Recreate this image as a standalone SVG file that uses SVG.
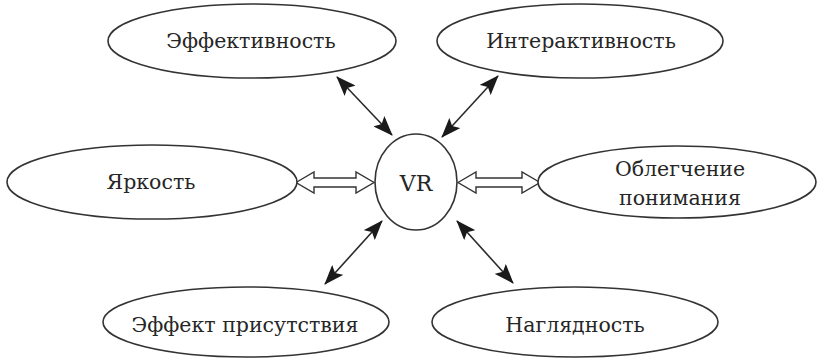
<svg xmlns="http://www.w3.org/2000/svg" width="819" height="358" viewBox="0 0 819 358">
<style>
.n{fill:#fff;stroke:#333;stroke-width:1.6}
.t{font-family:"DejaVu Serif","Liberation Serif",serif;font-size:20.5px;fill:#262626;text-anchor:middle}
.c{stroke:#2a2a2a;stroke-width:1.6;fill:none}
.h{fill:#fff;stroke:#333;stroke-width:1.4;stroke-linejoin:miter}
</style>
<defs>
<marker id="a" viewBox="0 0 20 15" refX="19" refY="7.5" markerWidth="20" markerHeight="15" markerUnits="userSpaceOnUse" orient="auto-start-reverse">
<path d="M0,0 L20,7.5 L0,15 L4,7.5 Z" fill="#1a1a1a"/>
</marker>
</defs>
<g id="connectors">
<line class="c" x1="337" y1="77" x2="392" y2="135" marker-start="url(#a)" marker-end="url(#a)"/>
<line class="c" x1="498" y1="76" x2="442" y2="137" marker-start="url(#a)" marker-end="url(#a)"/>
<line class="c" x1="382" y1="221" x2="325" y2="284" marker-start="url(#a)" marker-end="url(#a)"/>
<line class="c" x1="457" y1="221" x2="513" y2="283" marker-start="url(#a)" marker-end="url(#a)"/>
<polygon class="h" points="296,182.5 314,172 314,178 356,178 356,172 374,182.5 356,193 356,187 314,187 314,193"/>
<polygon class="h" points="458,182.5 476,172 476,178 522,178 522,172 540,182.5 522,193 522,187 476,187 476,193"/>
</g>
<g id="vr">
<ellipse class="n" cx="416" cy="182" rx="41" ry="48"/>
<text class="t" x="416" y="191" style="font-size:22px">VR</text>
</g>
<g id="effektivnost">
<ellipse class="n" cx="252" cy="41" rx="144" ry="37"/>
<text class="t" x="251" y="48">Эффективность</text>
</g>
<g id="interaktivnost">
<ellipse class="n" cx="580" cy="41" rx="143" ry="37"/>
<text class="t" x="581" y="48">Интерактивность</text>
</g>
<g id="yarkost">
<ellipse class="n" cx="152" cy="182" rx="145" ry="37"/>
<text class="t" x="151" y="189">Яркость</text>
</g>
<g id="oblegchenie">
<ellipse class="n" cx="677" cy="182" rx="139" ry="36"/>
<text class="t" x="680" y="176">Облегчение</text>
<text class="t" x="680" y="205">понимания</text>
</g>
<g id="effekt-prisutstviya">
<ellipse class="n" cx="246" cy="322" rx="143" ry="35"/>
<text class="t" x="245" y="332">Эффект присутствия</text>
</g>
<g id="naglyadnost">
<ellipse class="n" cx="575" cy="322" rx="143" ry="35"/>
<text class="t" x="575" y="332">Наглядность</text>
</g>
</svg>
